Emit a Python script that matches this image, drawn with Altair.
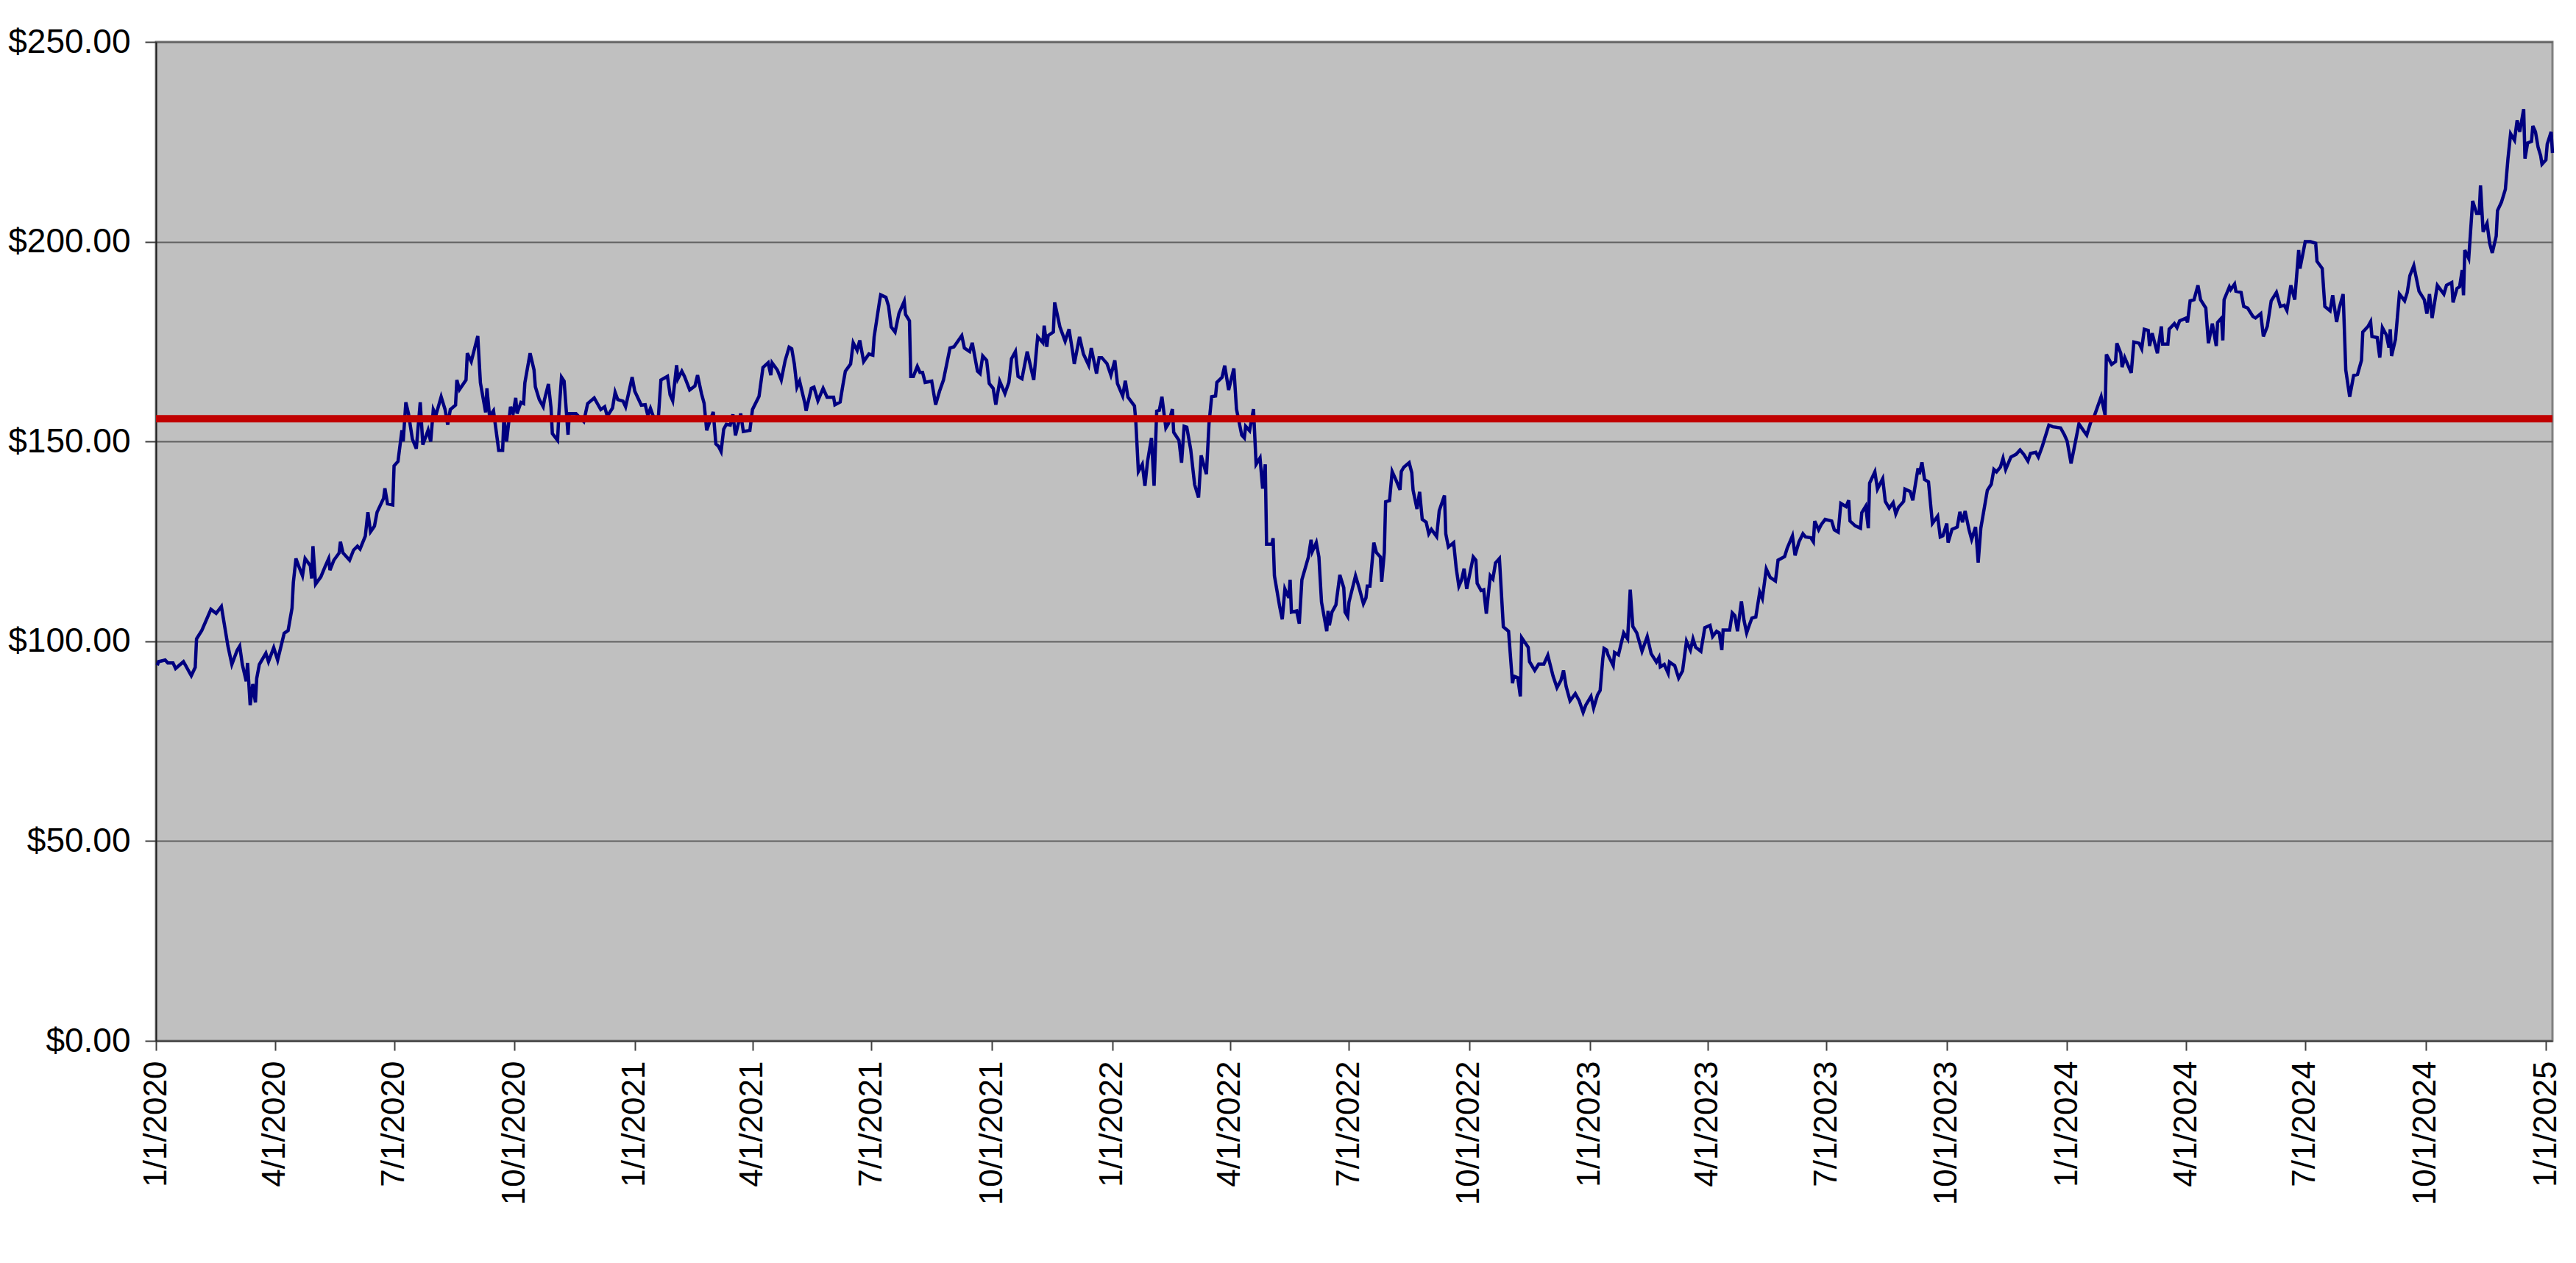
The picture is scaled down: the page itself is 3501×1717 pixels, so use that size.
import altair as alt
import pandas as pd

# (calendar day offset from 1/1/2020, closing price)
prices_2020 = [
    (1, 94.0), (2, 94.9), (7, 95.3), (9, 94.6), (13, 94.6), (15, 93.2), (21, 94.9), (27, 91.4),
    (30, 93.5), (31, 100.6), (35, 102.7), (42, 108.0), (46, 107.0), (50, 108.7), (55, 98.8),
    (58, 94.2), (62, 97.7), (64, 98.8), (66, 94.2), (69, 90.0), (70, 94.6), (72, 84.0), (74, 89.3),
    (76, 84.7), (77, 90.7), (79, 94.2), (84, 97.0), (86, 94.9), (90, 98.4), (93, 95.3), (98, 102.0),
    (101, 102.7), (104, 108.3), (105, 114.7), (107, 120.7), (109, 118.9), (112, 116.4), (114, 120.7),
    (118, 118.9), (119, 115.7), (120, 123.8), (122, 114.3), (126, 116.1), (129, 118.5), (132, 120.7),
    (133, 117.8), (136, 120.3), (140, 122.1), (141, 124.9), (143, 122.1), (148, 120.3), (151, 122.8),
    (154, 123.8), (156, 123.1), (160, 126.3), (162, 132.3), (164, 127.4), (167, 128.8), (169, 132.3),
    (174, 135.8), (175, 138.3), (177, 134.4), (181, 134.1), (182, 143.9), (185, 145.0), (188, 152.8),
    (189, 150.0), (191, 159.8), (193, 157.0), (196, 150.6), (199, 148.2), (202, 159.8), (204, 149.2),
    (208, 152.8), (210, 150.0), (212, 158.0), (214, 156.6), (218, 161.2), (221, 158.0), (223, 154.2),
    (225, 158.0), (229, 159.1), (230, 165.4), (232, 163.0), (237, 165.4), (238, 172.1), (241, 170.0),
    (246, 176.4), (248, 164.7), (252, 157.3), (253, 163.3), (255, 156.3), (258, 157.7), (262, 147.8),
    (265, 147.8), (266, 156.3), (268, 150.0), (271, 158.7), (273, 157.0), (275, 160.9), (276, 157.0),
    (279, 159.8), (281, 159.5), (282, 164.7), (286, 172.1), (289, 167.9), (290, 163.7), (293, 160.5),
    (296, 158.7), (297, 160.5), (300, 164.4), (302, 158.4), (303, 152.0), (307, 150.3), (308, 157.0),
    (310, 166.1), (312, 165.1), (315, 151.7), (316, 157.0), (321, 157.0), (327, 155.0), (330, 159.5),
    (335, 160.9), (340, 158.0), (343, 158.7), (345, 156.3), (349, 158.4), (351, 162.3), (353, 160.5),
    (357, 160.1), (359, 158.7), (364, 166.1), (366, 162.6), (371, 159.1),
]

prices_2021 = [
    (374, 159.2), (376, 156.5), (378, 158.3), (381, 155.5), (384, 155.8), (386, 165.4), (391, 166.3),
    (393, 161.7), (395, 160.2), (398, 169.1), (399, 165.7), (402, 167.6), (404, 166.3), (408, 162.9),
    (412, 163.9), (414, 166.6), (417, 162.0), (419, 159.6), (421, 152.8), (426, 157.4), (428, 149.4),
    (430, 148.8), (432, 147.5), (434, 153.1), (436, 154.3), (439, 154.1), (441, 156.8), (443, 151.5),
    (447, 157.0), (449, 152.5), (454, 152.8), (456, 158.0), (461, 161.3), (464, 168.5), (468, 169.7),
    (470, 166.6), (471, 169.7), (475, 167.9), (478, 165.4), (481, 170.3), (484, 173.6), (486, 173.2),
    (488, 169.4), (490, 163.6), (492, 165.1), (496, 159.6), (497, 157.7), (501, 163.3), (503, 163.6),
    (506, 160.2), (510, 163.3), (513, 161.1), (518, 161.1), (519, 159.2), (523, 159.9), (525, 163.9),
    (527, 167.6), (531, 169.4), (533, 174.7), (536, 172.8), (538, 175.3), (541, 170.0), (545, 171.9),
    (548, 171.6), (549, 176.2), (553, 184.8), (554, 186.7), (558, 186.1), (560, 183.9), (562, 178.7),
    (565, 177.4), (568, 182.1), (572, 185.1), (573, 181.8), (576, 180.2), (577, 166.3), (579, 166.3),
    (582, 168.8), (584, 167.3), (586, 167.3), (588, 164.8), (593, 165.1), (596, 159.2), (599, 162.6),
    (602, 165.4), (607, 173.4), (610, 173.7), (616, 176.5), (618, 173.4), (622, 172.5), (624, 174.7),
    (628, 167.6), (630, 167.0), (632, 171.4), (635, 170.3), (637, 164.5), (640, 163.3), (642, 159.2),
    (645, 165.1), (649, 162.0), (652, 164.8), (654, 170.7), (657, 172.5), (659, 166.3), (662, 165.7),
    (666, 172.5), (671, 165.4), (674, 176.2), (678, 174.7), (679, 179.0), (681, 173.7), (682, 176.5),
    (686, 177.4), (687, 184.8), (691, 178.7), (695, 175.1), (698, 178.1), (701, 171.9), (702, 169.4),
    (706, 176.2), (709, 171.9), (713, 169.1), (715, 173.4), (719, 167.0), (721, 171.0), (723, 171.0),
    (727, 169.5), (730, 166.6), (733, 170.3), (735, 164.5), (739, 161.4), (741, 165.2), (743, 161.1),
]

prices_2022 = [
    (748, 158.9), (749, 155.2), (751, 142.5), (754, 144.3), (756, 138.9), (758, 145.0), (761, 150.9),
    (763, 138.9), (765, 157.6), (767, 157.8), (769, 161.2), (772, 153.4), (774, 154.5), (777, 158.1),
    (778, 152.3), (782, 150.3), (784, 144.7), (786, 153.8), (788, 153.6), (791, 148.0), (794, 139.2),
    (797, 136.0), (799, 146.5), (803, 141.8), (805, 154.5), (807, 161.2), (810, 161.4), (811, 164.8),
    (815, 166.1), (817, 169.0), (820, 162.9), (824, 168.3), (826, 158.1), (830, 151.6), (832, 150.9),
    (833, 153.8), (836, 152.7), (839, 158.1), (841, 144.3), (844, 145.9), (846, 138.2), (848, 144.3),
    (849, 124.3), (853, 124.3), (854, 125.8), (855, 116.4), (859, 108.7), (861, 105.5), (863, 113.1),
    (866, 110.9), (867, 115.4), (868, 107.3), (872, 107.6), (874, 104.4), (876, 115.4), (881, 121.1),
    (883, 125.4), (884, 122.5), (887, 124.7), (889, 121.1), (891, 109.8), (895, 102.5), (896, 107.6),
    (897, 104.0), (899, 107.3), (902, 109.1), (905, 116.6), (908, 113.4), (909, 107.3), (911, 106.2),
    (912, 109.8), (917, 116.4), (920, 113.1), (923, 109.4), (925, 110.9), (926, 113.8), (928, 113.8),
    (931, 124.7), (933, 122.2), (936, 121.1), (937, 114.9), (939, 122.2), (940, 134.9), (943, 135.2),
    (945, 142.5), (948, 140.3), (951, 137.9), (952, 142.5), (954, 143.6), (958, 144.7), (960, 142.2),
    (961, 137.8), (964, 133.1), (966, 137.4), (968, 130.5), (971, 129.8), (973, 126.9), (975, 128.0),
    (979, 126.2), (981, 132.7), (985, 136.5), (986, 126.9), (988, 123.6), (992, 124.7), (994, 118.2),
    (996, 113.8), (998, 115.3), (1000, 118.2), (1002, 113.1), (1007, 121.1), (1009, 120.3),
    (1010, 114.5), (1013, 112.7), (1015, 112.9), (1017, 106.9), (1020, 116.4), (1022, 115.6),
    (1024, 119.6), (1027, 120.7), (1030, 103.6), (1034, 102.5), (1037, 89.5), (1038, 91.3),
    (1041, 90.9), (1043, 86.2), (1044, 100.9), (1049, 98.5), (1050, 94.9), (1054, 92.7), (1057, 94.3),
    (1061, 94.3), (1064, 96.5), (1068, 91.3), (1071, 88.4), (1074, 90.2), (1076, 92.7), (1078, 88.7),
    (1081, 85.1), (1085, 86.9), (1088, 85.1), (1091, 82.2), (1093, 84.0), (1097, 86.2), (1099, 83.3),
    (1102, 86.6), (1104, 87.7), (1106, 95.6), (1107, 98.2), (1109, 97.8),
]

prices_2023 = [
    (1110, 96.6), (1114, 93.9), (1115, 97.2), (1118, 96.6), (1122, 102.1), (1125, 100.6),
    (1127, 112.9), (1129, 103.7), (1132, 102.1), (1136, 97.5), (1140, 101.2), (1143, 96.9),
    (1147, 94.8), (1149, 96.0), (1150, 93.6), (1153, 94.2), (1156, 92.0), (1157, 94.8), (1161, 93.9),
    (1164, 90.8), (1167, 92.6), (1170, 100.0), (1173, 97.8), (1175, 100.6), (1177, 98.5),
    (1181, 97.5), (1184, 103.4), (1188, 104.0), (1190, 101.2), (1193, 102.5), (1195, 102.1),
    (1197, 97.8), (1198, 102.8), (1203, 102.8), (1205, 107.1), (1207, 106.4), (1209, 102.5),
    (1212, 110.0), (1214, 105.2), (1216, 102.1), (1218, 104.0), (1220, 105.8), (1223, 106.1),
    (1226, 112.3), (1228, 110.7), (1231, 118.1), (1234, 116.0), (1238, 115.1), (1240, 120.3),
    (1245, 121.2), (1247, 123.3), (1251, 126.4), (1253, 121.5), (1256, 124.9), (1259, 126.9),
    (1261, 126.1), (1265, 125.9), (1267, 124.9), (1268, 130.1), (1271, 127.9), (1273, 129.2),
    (1276, 130.5), (1281, 130.1), (1283, 127.9), (1286, 127.3), (1288, 134.5), (1292, 133.7),
    (1294, 135.3), (1295, 130.1), (1299, 128.9), (1303, 128.3), (1304, 132.2), (1307, 133.8),
    (1309, 128.3), (1310, 139.6), (1314, 142.4), (1316, 138.1), (1320, 140.7), (1322, 135.0),
    (1325, 133.3), (1328, 134.7), (1330, 131.9), (1332, 133.5), (1336, 135.0), (1337, 138.1),
    (1341, 137.5), (1343, 135.3), (1347, 143.3), (1348, 141.8), (1350, 144.8), (1352, 140.5),
    (1355, 139.9), (1358, 129.5), (1362, 131.3), (1364, 126.1), (1366, 126.4), (1369, 129.5),
    (1370, 124.7), (1373, 128.0), (1377, 128.6), (1379, 132.4), (1381, 129.8), (1383, 132.6),
    (1386, 127.9), (1388, 125.5), (1391, 128.6), (1393, 119.7), (1395, 128.3), (1400, 137.8),
    (1403, 139.3), (1405, 143.0), (1407, 142.4), (1410, 143.6), (1412, 145.8), (1414, 143.0),
    (1418, 146.1), (1422, 146.8), (1425, 147.9), (1428, 146.7), (1431, 145.1), (1433, 147.0),
    (1437, 147.3), (1439, 146.1), (1442, 148.8), (1447, 154.1), (1450, 153.7), (1456, 153.4),
    (1459, 151.6), (1461, 150.1), (1464, 144.5), (1467, 149.4), (1470, 154.4), (1474, 152.5),
]

prices_2024 = [
    (1476, 151.6), (1479, 154.8), (1482, 156.6), (1487, 161.2), (1490, 156.6), (1491, 171.8),
    (1495, 169.3), (1498, 170.0), (1499, 174.6), (1502, 172.1), (1503, 168.6), (1505, 171.0),
    (1510, 167.2), (1512, 174.9), (1516, 174.6), (1518, 173.2), (1520, 178.1), (1523, 177.8),
    (1524, 173.9), (1526, 177.1), (1530, 172.1), (1533, 178.8), (1534, 174.4), (1538, 174.4),
    (1539, 178.1), (1543, 179.5), (1545, 178.5), (1547, 180.2), (1552, 180.9), (1553, 179.8),
    (1555, 185.2), (1558, 185.5), (1561, 189.1), (1563, 185.5), (1567, 183.4), (1569, 174.6),
    (1572, 179.5), (1575, 173.9), (1576, 179.8), (1579, 180.9), (1580, 175.3), (1581, 185.5),
    (1585, 188.7), (1586, 188.0), (1589, 189.4), (1590, 187.6), (1594, 187.3), (1596, 183.8),
    (1599, 183.4), (1603, 181.3), (1605, 180.9), (1609, 182.0), (1611, 176.3), (1614, 178.8),
    (1617, 185.2), (1621, 187.3), (1624, 183.8), (1627, 184.1), (1629, 182.8), (1632, 189.1),
    (1635, 185.5), (1638, 197.9), (1639, 193.3), (1643, 200.0), (1647, 200.0), (1651, 199.6),
    (1652, 195.1), (1656, 193.3), (1658, 183.8), (1662, 182.7), (1664, 186.6), (1667, 179.9),
    (1669, 183.4), (1672, 186.9), (1674, 167.9), (1677, 161.2), (1680, 166.5), (1683, 166.8),
    (1686, 170.3), (1687, 177.4), (1691, 178.8), (1693, 180.0), (1694, 176.3), (1698, 176.0),
    (1700, 171.0), (1702, 178.5), (1705, 176.7), (1707, 173.5), (1708, 178.1), (1709, 171.4),
    (1712, 175.6), (1715, 186.9), (1719, 185.2), (1721, 187.3), (1723, 191.5), (1726, 194.0),
    (1730, 187.6), (1734, 185.5), (1736, 182.0), (1738, 186.9), (1740, 180.9), (1744, 189.1),
    (1749, 186.9), (1751, 189.1), (1755, 189.8), (1756, 184.8), (1759, 188.3), (1761, 188.7),
    (1763, 192.9), (1764, 186.6), (1765, 197.9), (1768, 195.8), (1771, 210.2), (1774, 207.1),
    (1776, 207.1), (1777, 214.1), (1779, 202.5), (1782, 204.6), (1784, 199.6), (1786, 197.2),
    (1789, 201.4), (1790, 207.8), (1793, 209.9), (1796, 213.1), (1798, 220.8), (1800, 227.0),
    (1803, 225.4), (1805, 230.4), (1807, 227.5), (1810, 233.2), (1811, 220.8), (1813, 224.7),
    (1816, 225.1), (1817, 229.0), (1819, 227.5), (1821, 223.7), (1823, 221.5), (1824, 219.4),
    (1827, 220.5), (1828, 224.4), (1831, 227.5), (1832, 222.2),
]

reference_level = [155.7]
y_tick_values = [0, 50, 100, 150, 200, 250]
x_tick_dates = [
    (2020, 1), (2020, 4), (2020, 7), (2020, 10),
    (2021, 1), (2021, 4), (2021, 7), (2021, 10),
    (2022, 1), (2022, 4), (2022, 7), (2022, 10),
    (2023, 1), (2023, 4), (2023, 7), (2023, 10),
    (2024, 1), (2024, 4), (2024, 7), (2024, 10),
    (2025, 1),
]

rows = sorted(prices_2020 + prices_2021 + prices_2022 + prices_2023 + prices_2024)
start = pd.Timestamp("2020-01-01")
df = pd.DataFrame({
    "date": [(start + pd.Timedelta(days=d)).strftime("%Y-%m-%d") for d, _ in rows],
    "price": [p for _, p in rows],
})
level_df = pd.DataFrame({"level": reference_level})

FONT = "Liberation Sans"

x_scale = alt.Scale(
    type="utc",
    domain=[
        alt.DateTime(year=2020, month=1, date=1, utc=True),
        alt.DateTime(year=2025, month=1, date=6, utc=True),
    ],
)
y_scale = alt.Scale(domain=[0, 250], nice=False, zero=True)

x_axis = alt.Axis(
    values=[alt.DateTime(year=y, month=m, date=1, utc=True) for y, m in x_tick_dates],
    labelExpr="(utcmonth(datum.value)+1) + '/' + utcdate(datum.value) + '/' + utcyear(datum.value)",
    labelAngle=270,
    labelFont=FONT,
    labelFontSize=44,
    labelColor="#000000",
    labelPadding=14,
    labelLimit=0,
    labelOverlap=False,
    labelFlush=False,
    labelBound=False,
    tickSize=13,
    tickWidth=2,
    tickColor="#404040",
    domainColor="#404040",
    domainWidth=2,
    grid=False,
    title=None,
)
y_axis = alt.Axis(
    values=y_tick_values,
    format="$.2f",
    labelFont=FONT,
    labelFontSize=46,
    labelColor="#000000",
    labelPadding=20,
    labelLimit=0,
    tickSize=15,
    tickWidth=2,
    tickColor="#404040",
    domainColor="#202020",
    domainWidth=2,
    grid=True,
    gridColor="#606060",
    gridWidth=2,
    title=None,
)

line = alt.Chart(df).mark_line(color="#000080", strokeWidth=4.5).encode(
    x=alt.X("date:T", scale=x_scale, axis=x_axis),
    y=alt.Y("price:Q", scale=y_scale, axis=y_axis),
)

rule = alt.Chart(level_df).mark_rule(color="#C00000", strokeWidth=10).encode(
    y=alt.Y("level:Q", scale=y_scale),
)

chart = (
    alt.layer(line, rule)
    .properties(
        width=3257,
        height=1358,
        padding={"left": 204, "top": 49, "right": 20, "bottom": 280},
        autosize=alt.AutoSizeParams(type="none"),
        background="#FFFFFF",
    )
    .configure_view(fill="#C0C0C0", stroke="#808080", strokeWidth=3)
)

chart.save("out.html", embed_options={"renderer": "svg", "actions": False})
